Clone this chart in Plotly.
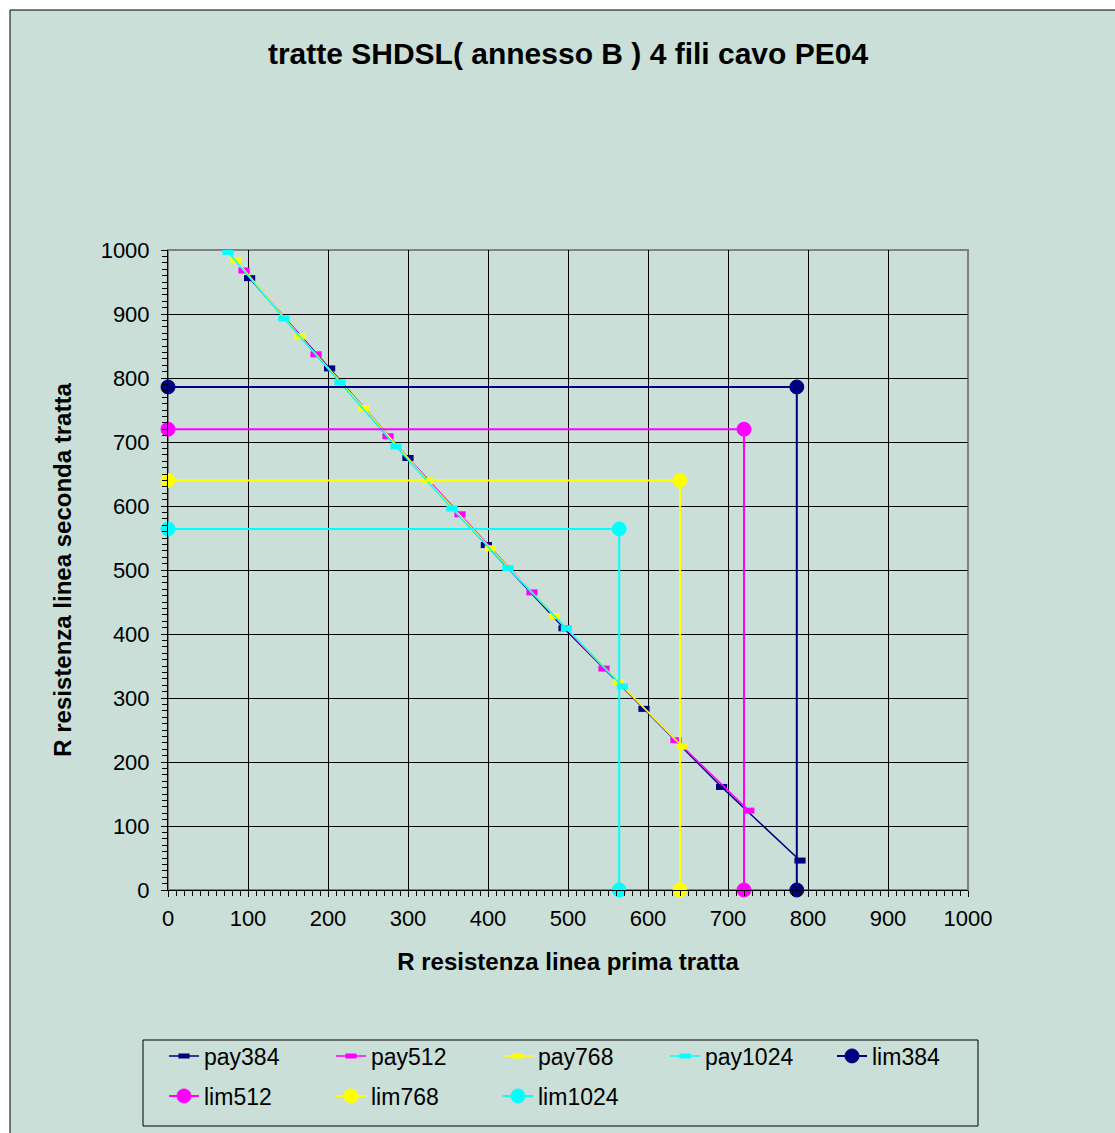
import plotly.graph_objects as go

# pay curves: (R first section, R second section)
pay384_x = [102, 202, 300, 398, 495, 595, 692, 790]
pay384_y = [956, 815, 675, 539, 409, 283, 161, 46]

pay512_x = [95, 185, 275, 365, 455, 545, 635, 726]
pay512_y = [968, 837, 709, 587, 465, 346, 234, 124]

pay768_x = [85, 165, 245, 325, 403, 483, 563, 643]
pay768_y = [984, 865, 753, 639, 534, 428, 325, 224]

pay1024_x = [75, 145, 215, 285, 355, 425, 498, 568]
pay1024_y = [997, 893, 793, 693, 596, 503, 409, 318]

# limits (single value per rate)
lim_names = ["lim384", "lim512", "lim768", "lim1024"]
lim_values = [786, 720, 640, 564]

colors = ["#000080", "#FF00FF", "#FFFF00", "#00FFFF"]
bg = "#C9DFD7"
font = "Liberation Sans"

fig = go.Figure()

pays = [("pay384", pay384_x, pay384_y), ("pay512", pay512_x, pay512_y),
        ("pay768", pay768_x, pay768_y), ("pay1024", pay1024_x, pay1024_y)]
for (name, xs, ys), c in zip(pays, colors):
    # flat rectangle markers like the original
    fig.add_trace(go.Scatter(x=xs, y=ys, name=name, mode="lines+markers",
                             line=dict(color=c, width=1.5), legend="legend",
                             marker=dict(symbol="line-ew", size=8, color=c,
                                         line=dict(color=c, width=6))))

# first lim goes on legend row 1, the others on row 2
for i, (name, v, c) in enumerate(zip(lim_names, lim_values, colors)):
    fig.add_trace(go.Scatter(x=[0, v, v], y=[v, v, 0], name=name, mode="lines+markers",
                             line=dict(color=c, width=2), cliponaxis=False,
                             legend="legend" if i == 0 else "legend2",
                             marker=dict(symbol="circle", size=14, color=c,
                                         line=dict(color=c, width=1))))

# chart area frame (white margin at top-left like the original)
fig.add_shape(type="rect", xref="paper", yref="paper", x0=-0.1975, x1=1.25,
              y0=-0.45, y1=1.375, fillcolor=bg, line=dict(color="black", width=1),
              layer="below")
# plot area border
fig.add_shape(type="rect", xref="paper", yref="paper", x0=0, x1=1, y0=0, y1=1,
              line=dict(color="#808080", width=2), layer="below")
# legend box
fig.add_shape(type="rect", xref="paper", yref="paper", x0=-0.03125, x1=1.0125,
              y0=-0.36875, y1=-0.234375, line=dict(color="black", width=1),
              fillcolor=bg, layer="below")

axis_common = dict(range=[0, 1000], dtick=100, showgrid=True, gridcolor="black",
                   gridwidth=1, zeroline=False, showline=True, linecolor="black",
                   linewidth=1, ticks="outside", ticklen=6, tickcolor="black",
                   tickfont=dict(family=font, size=22, color="black"),
                   minor=dict(dtick=10, ticks="outside", ticklen=5, tickcolor="black",
                              showgrid=False))

fig.update_xaxes(**axis_common, ticklabelstandoff=3,
                 title=dict(text="<b>R resistenza linea prima tratta</b>", standoff=22,
                            font=dict(family=font, size=24, color="black")))
fig.update_yaxes(**axis_common, ticklabelstandoff=7,
                 title=dict(text="<b>R resistenza linea seconda tratta</b>", standoff=22,
                            font=dict(family=font, size=24, color="black")))

legend_common = dict(orientation="h", xanchor="left", yanchor="middle",
                     bgcolor="rgba(0,0,0,0)", borderwidth=0,
                     entrywidth=122, entrywidthmode="pixels",
                     font=dict(family=font, size=23, color="black"))

fig.update_layout(
    width=1115, height=1133,
    margin=dict(l=168, r=147, t=250, b=243, autoexpand=False),
    paper_bgcolor="white", plot_bgcolor=bg,
    title=dict(text="<b>tratte SHDSL( annesso B ) 4 fili cavo PE04</b>",
               x=0.5, xref="paper", xanchor="center",
               y=1 - 53 / 1133, yanchor="middle",
               font=dict(family=font, size=30, color="black")),
    legend=dict(**legend_common, x=-0.005, y=-0.259375),
    legend2=dict(**legend_common, x=-0.005, y=-0.321875),
    showlegend=True,
)

fig.write_html("out.html", config={"displayModeBar": False},
               post_script="document.body.style.margin='0px';")
